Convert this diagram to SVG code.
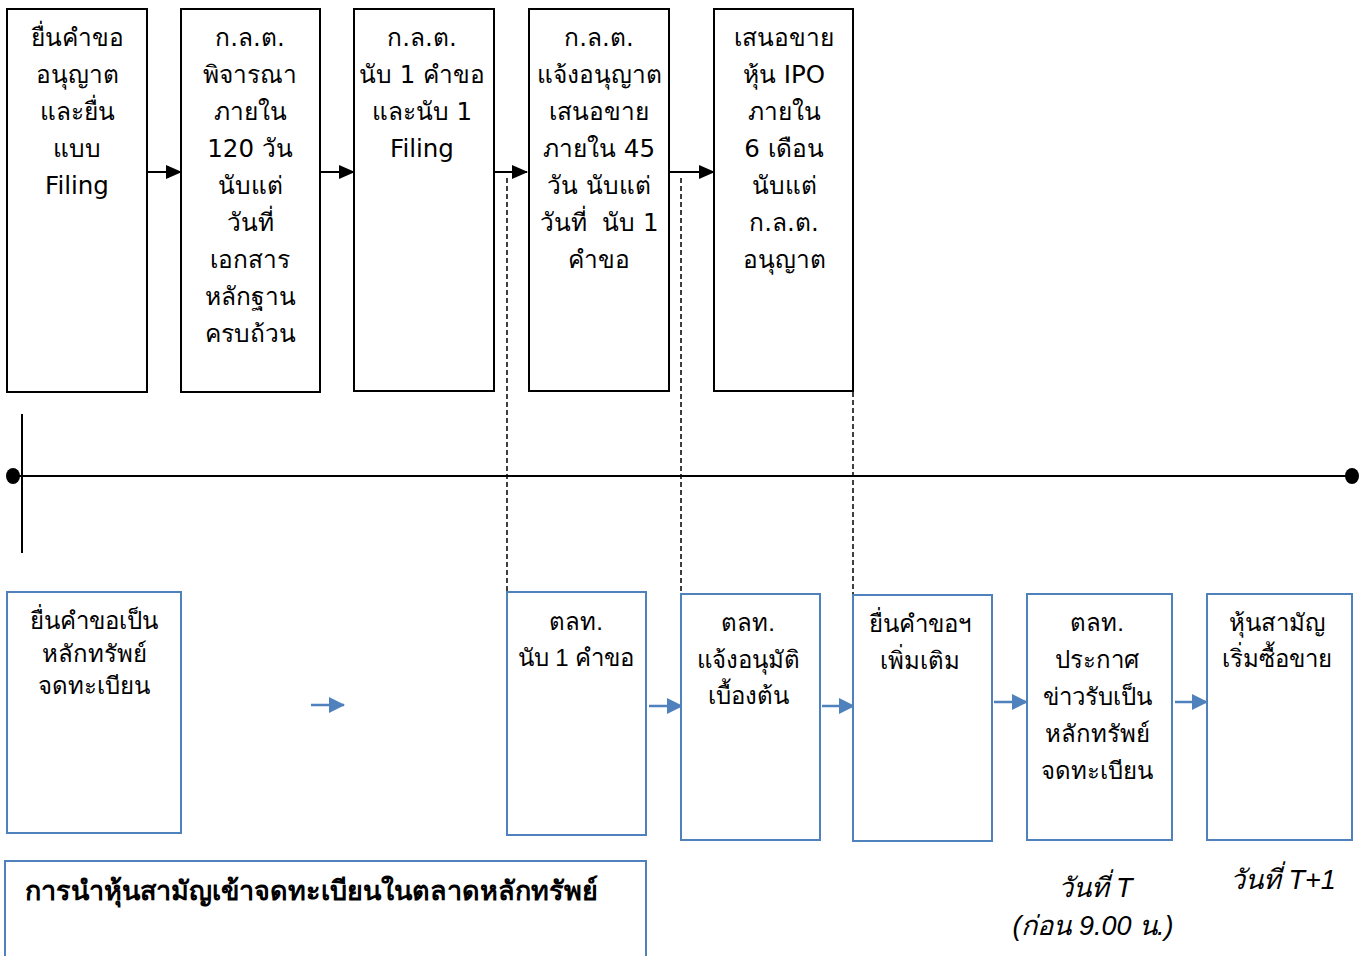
<svg xmlns="http://www.w3.org/2000/svg" width="1365" height="956" viewBox="0 0 1365 956">
<defs>
<style>
.tb{fill:#fff;stroke:#000;stroke-width:2}
.bb{fill:#fff;stroke:#4F81BD;stroke-width:2}
.tt{font-family:"DejaVu Sans","Noto Sans",sans-serif;font-size:24.5px;fill:#000;text-anchor:middle}
.bt{font-family:"Liberation Sans","Noto Sans",sans-serif;font-size:24px;fill:#000;text-anchor:middle}
.it{font-family:"Liberation Sans","Noto Sans",sans-serif;font-size:27px;font-style:italic;fill:#000;text-anchor:middle}
.ti{font-family:"Liberation Sans","Noto Sans",sans-serif;font-size:27px;font-weight:bold;fill:#000}
.ka{stroke:#000;stroke-width:2;fill:none}
.ba{stroke:#4F81BD;stroke-width:2.5;fill:none}
.da{stroke:#000;stroke-width:1.5;stroke-dasharray:5,3;fill:none}
</style>
<marker id="ah" markerWidth="16" markerHeight="14" refX="15" refY="7" orient="auto" markerUnits="userSpaceOnUse">
<path d="M0,0 L16,7 L0,14 Z" fill="#000"/>
</marker>
<marker id="bh" markerWidth="16" markerHeight="16" refX="15" refY="8" orient="auto" markerUnits="userSpaceOnUse">
<path d="M0,0 L16,8 L0,16 Z" fill="#4F81BD"/>
</marker>
</defs>
<rect width="1365" height="956" fill="#fff"/>

<g id="connectors">
<line class="da" x1="507" y1="178" x2="507" y2="620"/>
<line class="da" x1="681" y1="178" x2="681" y2="620"/>
<line class="da" x1="853" y1="368" x2="853" y2="605"/>
<line class="ka" x1="147" y1="172" x2="181" y2="172" marker-end="url(#ah)"/>
<line class="ka" x1="320" y1="172" x2="354" y2="172" marker-end="url(#ah)"/>
<line class="ka" x1="494" y1="172" x2="527" y2="172" marker-end="url(#ah)"/>
<line class="ka" x1="669" y1="172" x2="714" y2="172" marker-end="url(#ah)"/>
<line class="ba" x1="311" y1="705" x2="344" y2="705" marker-end="url(#bh)"/>
<line class="ba" x1="649" y1="706" x2="682" y2="706" marker-end="url(#bh)"/>
<line class="ba" x1="822" y1="706" x2="854" y2="706" marker-end="url(#bh)"/>
<line class="ba" x1="994" y1="702" x2="1027" y2="702" marker-end="url(#bh)"/>
<line class="ba" x1="1175" y1="702" x2="1207" y2="702" marker-end="url(#bh)"/>
</g>

<g id="timeline">
<line x1="13" y1="476" x2="1352" y2="476" stroke="#000" stroke-width="2"/>
<line x1="22" y1="414" x2="22" y2="553" stroke="#000" stroke-width="2"/>
<ellipse cx="13" cy="476" rx="7" ry="8" fill="#000"/>
<ellipse cx="1352" cy="476" rx="7" ry="8" fill="#000"/>
</g>

<g id="t1">
<rect class="tb" x="7" y="9" width="140" height="383"/>
<text class="tt" x="77" y="46">ยื่นคำขอ</text>
<text class="tt" x="77" y="83">อนุญาต</text>
<text class="tt" x="77" y="120">และยื่น</text>
<text class="tt" x="77" y="157">แบบ</text>
<text class="tt" x="77" y="194">Filing</text>
</g>
<g id="t2">
<rect class="tb" x="181" y="9" width="139" height="383"/>
<text class="tt" x="250" y="46">ก.ล.ต.</text>
<text class="tt" x="250" y="83">พิจารณา</text>
<text class="tt" x="250" y="120">ภายใน</text>
<text class="tt" x="250" y="157">120 วัน</text>
<text class="tt" x="250" y="194">นับแต่</text>
<text class="tt" x="250" y="231">วันที่</text>
<text class="tt" x="250" y="268">เอกสาร</text>
<text class="tt" x="250" y="305">หลักฐาน</text>
<text class="tt" x="250" y="342">ครบถ้วน</text>
</g>
<g id="t3">
<rect class="tb" x="354" y="9" width="140" height="382"/>
<text class="tt" x="422" y="46">ก.ล.ต.</text>
<text class="tt" x="422" y="83">นับ 1 คำขอ</text>
<text class="tt" x="422" y="120">และนับ 1</text>
<text class="tt" x="422" y="157">Filing</text>
</g>
<g id="t4">
<rect class="tb" x="529" y="9" width="140" height="382"/>
<text class="tt" x="599" y="46">ก.ล.ต.</text>
<text class="tt" x="599" y="83">แจ้งอนุญาต</text>
<text class="tt" x="599" y="120">เสนอขาย</text>
<text class="tt" x="599" y="157">ภายใน 45</text>
<text class="tt" x="599" y="194">วัน นับแต่</text>
<text class="tt" x="599" y="231">วันที่&#160; นับ 1</text>
<text class="tt" x="599" y="268">คำขอ</text>
</g>
<g id="t5">
<rect class="tb" x="714" y="9" width="139" height="382"/>
<text class="tt" x="784" y="46">เสนอขาย</text>
<text class="tt" x="784" y="83">หุ้น IPO</text>
<text class="tt" x="784" y="120">ภายใน</text>
<text class="tt" x="784" y="157">6 เดือน</text>
<text class="tt" x="784" y="194">นับแต่</text>
<text class="tt" x="784" y="231">ก.ล.ต.</text>
<text class="tt" x="784" y="268">อนุญาต</text>
</g>

<g id="b1">
<rect class="bb" x="7" y="592" width="174" height="241"/>
<text class="bt" x="94" y="629">ยื่นคำขอเป็น</text>
<text class="bt" x="94" y="662">หลักทรัพย์</text>
<text class="bt" x="94" y="694">จดทะเบียน</text>
</g>
<g id="b2">
<rect class="bb" x="507" y="592" width="139" height="243"/>
<text class="bt" x="576" y="630">ตลท.</text>
<text class="bt" x="576" y="666">นับ 1 คำขอ</text>
</g>
<g id="b3">
<rect class="bb" x="681" y="594" width="139" height="246"/>
<text class="bt" x="748" y="631">ตลท.</text>
<text class="bt" x="748" y="668">แจ้งอนุมัติ</text>
<text class="bt" x="748" y="704">เบื้องต้น</text>
</g>
<g id="b4">
<rect class="bb" x="853" y="595" width="139" height="246"/>
<text class="bt" x="920" y="632">ยื่นคำขอฯ</text>
<text class="bt" x="920" y="669">เพิ่มเติม</text>
</g>
<g id="b5">
<rect class="bb" x="1027" y="594" width="145" height="246"/>
<text class="bt" x="1097" y="631">ตลท.</text>
<text class="bt" x="1097" y="668">ประกาศ</text>
<text class="bt" x="1097" y="705">ข่าวรับเป็น</text>
<text class="bt" x="1097" y="742">หลักทรัพย์</text>
<text class="bt" x="1097" y="779">จดทะเบียน</text>
</g>
<g id="b6">
<rect class="bb" x="1207" y="594" width="145" height="246"/>
<text class="bt" x="1277" y="631">หุ้นสามัญ</text>
<text class="bt" x="1277" y="667">เริ่มซื้อขาย</text>
</g>

<g id="title">
<rect class="bb" x="5" y="861" width="641" height="100"/>
<text class="ti" x="25" y="900">การนำหุ้นสามัญเข้าจดทะเบียนในตลาดหลักทรัพย์</text>
</g>

<g id="labels">
<text class="it" x="1095" y="897">วันที่ T</text>
<text class="it" x="1093" y="935">(ก่อน 9.00 น.)</text>
<text class="it" x="1283" y="889">วันที่ T+1</text>
</g>
</svg>
